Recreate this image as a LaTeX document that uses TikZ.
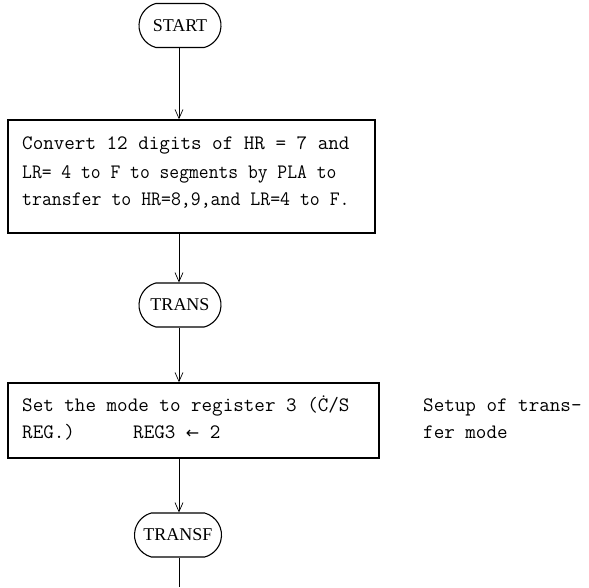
\documentclass[tikz,border=0pt]{standalone}
\usepackage{fontspec}
\usetikzlibrary{shapes.misc,arrows.meta}
\setmainfont{Liberation Serif}
\setmonofont{Latin Modern Mono}
\newfontfamily\symfont{DejaVu Sans}

\tikzset{
  terminal/.style={rounded rectangle, draw, line width=1.1pt,
    minimum width=82pt, minimum height=44pt, inner sep=0pt,
    rounded rectangle arc length=150,
    font=\fontsize{18}{20}\selectfont},
  procbox/.style={rectangle, draw, line width=1.4pt, inner sep=0pt},
  codeline/.style={anchor=base west, inner sep=0pt,
    font=\ttfamily\fontsize{20.5}{22}\selectfont},
  flow/.style={line width=0.7pt, -{Straight Barb[length=9pt,width=8pt,line width=0.7pt]}},
  plainflow/.style={line width=0.7pt}
}

\begin{document}
\begin{tikzpicture}[x=1pt,y=-1pt]
  \useasboundingbox (0,0) rectangle (589,587);

  % terminals
  \node[terminal] (start)  at (180,25.5) {START};
  \node[terminal] (trans)  at (180,305)  {TRANS};
  \node[terminal, minimum width=87pt] (transf) at (178,535) {TRANSF};

  % process boxes
  \node[procbox, minimum width=367pt, minimum height=113pt] (box1) at (191.5,176.5) {};
  \node[procbox, minimum width=371pt, minimum height=75pt]  (box2) at (193.5,420.5) {};

  % text of the first box
  \node[codeline] (b1l1) at (22,149) {Convert 12 digits of HR = 7 and};
  \node[codeline] (b1l2) at (22,178) {\scalebox{0.93}[1]{LR= 4 to F to segments by PLA to}};
  \node[codeline] (b1l3) at (22,205) {\scalebox{0.94}[1]{transfer to HR=8,9,and LR=4 to F.}};

  % text of the second box
  \node[codeline] (b2l1) at (22,411) {Set the mode to register 3 (Ċ/S};
  \node[codeline] (b2l2) at (22,438) {REG.)};
  \node[codeline] (b2l3) at (133,438) {REG3 {\symfont\fontsize{16}{18}\selectfont ←} 2};

  % side comment
  \node[codeline] (note1) at (423,411) {Setup of trans-};
  \node[codeline] (note2) at (423,438) {fer mode};

  % connectors
  \coordinate (exit) at (179,587);
  \draw[flow] ([xshift=-1pt]start.south) -- ([xshift=-1pt]start.south |- box1.north);
  \draw[flow] ([xshift=-1pt]start.south |- box1.south) -- ([xshift=-1pt]trans.north);
  \draw[flow] ([xshift=-1pt]trans.south) -- ([xshift=-1pt]trans.south |- box2.north);
  \draw[flow] ([xshift=-1pt]trans.south |- box2.south) -- ([xshift=1pt]transf.north);
  \draw[plainflow] ([xshift=1pt]transf.south) -- (exit);
\end{tikzpicture}
\end{document}
